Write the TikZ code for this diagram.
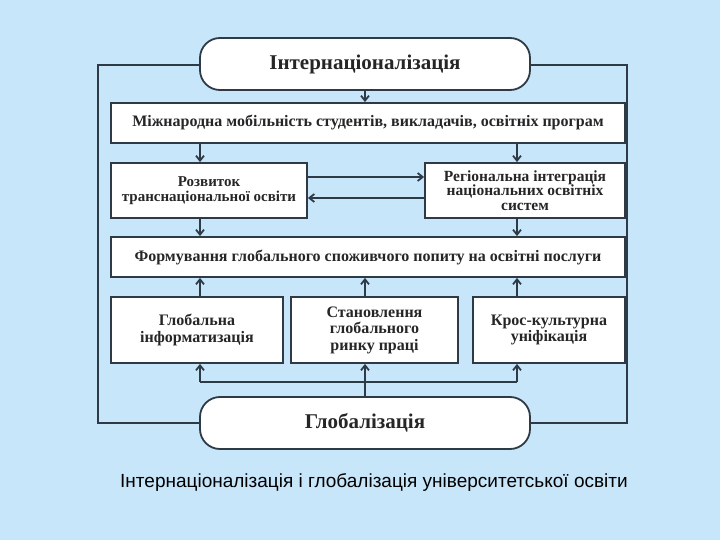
\documentclass[tikz,border=0pt]{standalone}
\usepackage{fontspec}
\setmainfont{Liberation Serif}
\newfontfamily\capfont{Liberation Sans}
\usetikzlibrary{arrows.meta}
\definecolor{bg}{HTML}{C8E6FA}
\definecolor{ln}{HTML}{2E3B46}
\tikzset{
  box/.style={draw=ln,line width=1.8pt,fill=white,inner sep=1pt,align=center,font=\bfseries\fontsize{16}{16.5}\selectfont,text=black!85},
  pill/.style={draw=ln,line width=1.8pt,fill=white,rounded corners=20pt,font=\bfseries\fontsize{21}{21}\selectfont,text=black!85},
  arr/.style={draw=ln,line width=1.8pt,-{Straight Barb[length=5pt,width=8pt,line width=1.8pt]}},
  ln/.style={draw=ln,line width=1.8pt}
}
\begin{document}
\begin{tikzpicture}[x=1pt,y=-1pt]
\fill[bg] (0,0) rectangle (720,540);
\useasboundingbox (0,0) rectangle (720,540);
% frame
\draw[ln] (200,65) -- (98,65) -- (98,423) -- (200,423);
\draw[ln] (530,65) -- (627,65) -- (627,423) -- (530,423);
\node[pill,minimum width=330pt,minimum height=52pt] (int) at (365,64) {Інтернаціоналізація};
\node[pill,minimum width=330pt,minimum height=52pt] (glob) at (365,423) {Глобалізація};
\node[box,minimum width=514pt,minimum height=40pt] (mob) at (368,123) {Міжнародна мобільність студентів, викладачів, освітніх програм};
\node[box,minimum width=196pt,minimum height=55pt,font=\bfseries\fontsize{15}{15}\selectfont] (roz) at (209,190.5) {Розвиток\\транснаціональної освіти};
\node[box,minimum width=200pt,minimum height=55pt,font=\bfseries\fontsize{15.5}{14.5}\selectfont] (reg) at (525,190.5) {Регіональна інтеграція\\національних освітніх\\систем};
\node[box,minimum width=514pt,minimum height=40pt] (form) at (368,257) {Формування глобального споживчого попиту на освітні послуги};
\node[box,minimum width=172pt,minimum height=66pt] (b1) at (197,330) {Глобальна\\інформатизація};
\node[box,minimum width=167pt,minimum height=66pt] (b2) at (374.5,330) {Становлення\\глобального\\ринку праці};
\node[box,minimum width=152pt,minimum height=66pt] (b3) at (549,330) {Крос-культурна\\уніфікація};
\node[font=\capfont\fontsize{19}{20}\selectfont,text=black] (cap) at (374,483) {Інтернаціоналізація і глобалізація університетської освіти};
% arrows
\draw[arr] (int.south -| 365,0) -- (mob.north -| 365,0);
\draw[arr] (mob.south -| 200,0) -- (roz.north -| 200,0);
\draw[arr] (mob.south -| 517,0) -- (reg.north -| 517,0);
\draw[arr] (roz.south -| 200,0) -- (form.north -| 200,0);
\draw[arr] (reg.south -| 517,0) -- (form.north -| 517,0);
\draw[arr] (roz.east |- 0,177) -- (reg.west |- 0,177);
\draw[arr] (reg.west |- 0,198) -- (roz.east |- 0,198);
\draw[arr] (b1.north -| 200,0) -- (form.south -| 200,0);
\draw[arr] (b2.north -| 365,0) -- (form.south -| 365,0);
\draw[arr] (b3.north -| 517,0) -- (form.south -| 517,0);
\coordinate (j) at (365,382);
\coordinate (jl) at (200,382);
\coordinate (jr) at (517,382);
\draw[ln] (glob.north -| 365,0) -- (j);
\draw[ln] (jl) -- (jr);
\draw[arr] (jl) -- (b1.south -| 200,0);
\draw[arr] (j) -- (b2.south -| 365,0);
\draw[arr] (jr) -- (b3.south -| 517,0);
\end{tikzpicture}
\end{document}
